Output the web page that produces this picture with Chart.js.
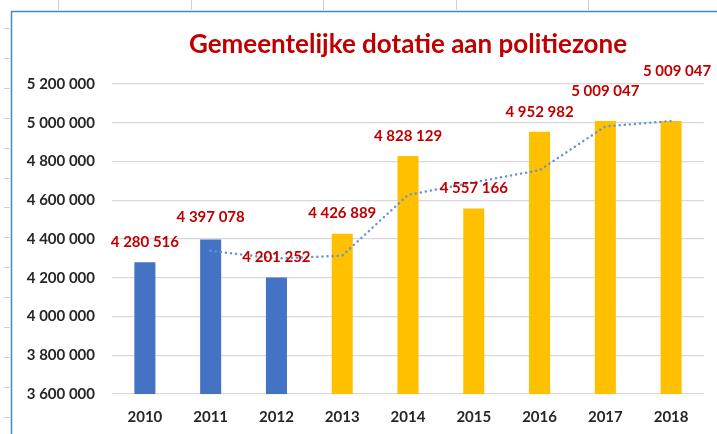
<!DOCTYPE html>
<html lang="nl">
<head>
  <meta charset="UTF-8">
  <title>Gemeentelijke dotatie aan politiezone</title>
  <script src="https://cdn.jsdelivr.net/npm/chart.js"></script>
  <style>
    body {
      margin: 0;
      padding: 0;
      background: #fff;
    }
    .wrap {
      position: relative;
      width: 717px;
      height: 434px;
    }
  </style>
</head>
<body>
  <div class="wrap">
    <canvas id="dotatieChart" width="717" height="434"></canvas>
  </div>

  <script>
    // Data
    const years = ['2010', '2011', '2012', '2013', '2014', '2015', '2016', '2017', '2018'];
    const dotatie = [4280516, 4397078, 4201252, 4426889, 4828129, 4557166, 4952982, 5009047, 5009047];
    // trend line (2-period moving average as shown)
    const trend = [null, 4338797, 4299165, 4314071, 4627509, 4692648, 4755074, 4981015, 5009047];
    const yTicks = [3600000, 3800000, 4000000, 4200000, 4400000, 4600000, 4800000, 5000000, 5200000];

    const blue = '#4472C4';
    const gold = '#FFC000';
    const red = '#C00000';
    const barColors = years.map(y => (parseInt(y) <= 2012 ? blue : gold));

    function fmt(v) {
      return String(v).replace(/\B(?=(\d{3})+(?!\d))/g, ' ');
    }

    // spreadsheet frame + title
    const framePlugin = {
      id: 'frame',
      beforeDraw(chart) {
        const c = chart.ctx;
        c.save();
        c.strokeStyle = '#d0d0d0';
        c.lineWidth = 1;
        for (let y = 28; y < 434; y += 29.9) {
          c.beginPath(); c.moveTo(4, Math.round(y) + 0.5); c.lineTo(10, Math.round(y) + 0.5); c.stroke();
        }
        for (let x = 58; x < 717; x += 132.6) {
          c.beginPath(); c.moveTo(Math.round(x) + 0.5, 0); c.lineTo(Math.round(x) + 0.5, 10); c.stroke();
        }
        c.strokeStyle = '#3d8bd0';
        c.lineWidth = 1.5;
        c.beginPath();
        c.moveTo(11.5, 434); c.lineTo(11.5, 11.5); c.lineTo(717, 11.5);
        c.stroke();
        c.restore();
      },
      afterDraw(chart) {
        const c = chart.ctx;
        const a = chart.chartArea;
        c.save();
        c.fillStyle = red;
        c.font = 'bold 26px Lato';
        c.textAlign = 'center';
        c.textBaseline = 'middle';
        c.fillText('Gemeentelijke dotatie aan politiezone', (a.left + a.right) / 2, 45);
        c.restore();
      }
    };

    // bar value labels, drawn above the bars
    const labelPlugin = {
      id: 'valueLabels',
      afterDatasetsDraw(chart, args, opts) {
        const c = chart.ctx;
        const meta = chart.getDatasetMeta(1);
        c.save();
        c.fillStyle = red;
        c.font = 'bold 15px Lato';
        c.textAlign = 'center';
        c.textBaseline = 'middle';
        meta.data.forEach((bar, i) => {
          const off = opts.offsets[i] || [0, 20];
          c.fillText(fmt(dotatie[i]), bar.x + off[0], bar.y - off[1]);
        });
        c.restore();
      }
    };

    new Chart(document.getElementById('dotatieChart'), {
      data: {
        labels: years,
        datasets: [
          {
            type: 'line',
            label: 'Trend',
            data: trend,
            borderColor: '#6A94D8',
            borderWidth: 2.5,
            borderDash: [0.1, 5],
            borderCapStyle: 'round',
            pointRadius: 0,
            tension: 0,
            fill: false,
            order: 0
          },
          {
            type: 'bar',
            label: 'Dotatie',
            data: dotatie,
            backgroundColor: barColors,
            barPercentage: 0.32,
            categoryPercentage: 1,
            order: 1
          }
        ]
      },
      options: {
        responsive: false,
        animation: false,
        layout: { padding: { top: 84, right: 13, bottom: 8, left: 0 } },
        plugins: {
          legend: { display: false },
          tooltip: { enabled: false },
          valueLabels: {
            offsets: [[0, 20], [0, 22], [0, 20], [0, 21], [0, 20], [0, 20], [0, 20], [0, 30], [6, 50]]
          }
        },
        scales: {
          x: {
            afterFit(scale) { scale.height = 32; },
            grid: { display: false, drawTicks: false },
            border: { display: false },
            ticks: {
              padding: 14,
              color: '#262626',
              font: { family: 'Lato', size: 15, weight: 'bold' }
            }
          },
          y: {
            min: 3600000,
            max: 5200000,
            afterFit(scale) { scale.width = 112; },
            afterBuildTicks(scale) { scale.ticks = yTicks.map(v => ({ value: v })); },
            grid: { color: '#d9d9d9', lineWidth: 1.3, drawTicks: false },
            border: { display: false },
            ticks: {
              padding: 17,
              color: '#262626',
              font: { family: 'Lato', size: 15, weight: 'bold' },
              callback: v => fmt(v)
            }
          }
        }
      },
      plugins: [framePlugin, labelPlugin]
    });
  </script>
</body>
</html>
